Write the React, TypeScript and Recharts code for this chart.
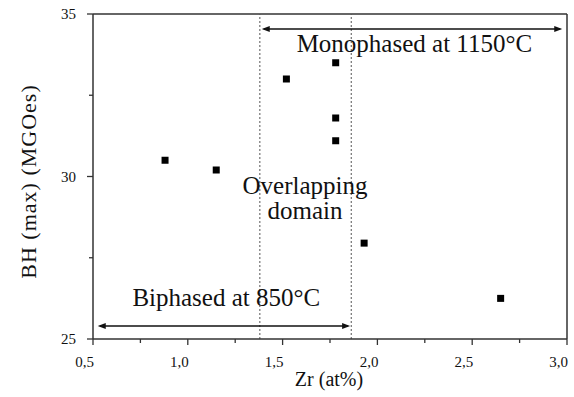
import React from 'react';
import {
  ScatterChart,
  Scatter,
  XAxis,
  YAxis,
  ReferenceLine,
  ReferenceDot,
  Label,
} from 'recharts';

// ---- data ----
const zrValues = [0.88, 1.15, 1.52, 1.78, 1.78, 1.78, 1.93, 2.65];
const bhValues = [30.5, 30.2, 33.0, 33.5, 31.8, 31.1, 27.95, 26.25];

const xMajorTicks = [0.5, 1.0, 1.5, 2.0, 2.5, 3.0];
const xMinorTicks = [0.75, 1.25, 1.75, 2.25, 2.75];
const yMajorTicks = [25, 30, 35];
const yMinorTicks = [27.5, 32.5];

const domainBounds = [1.38, 1.862]; // dotted vertical lines (Zr at%)

const monoArrow = { x1: 1.39, x2: 2.975, y: 34.54 };
const biArrow = { x1: 0.525, x2: 1.856, y: 25.4 };

const annMono = { x: 2.195, y: 33.83, lines: ['Monophased at 1150°C'] };
const annOverlap = { x: 1.618, y: 29.475, lines: ['Overlapping', 'domain'] };
const annBi = { x: 1.203, y: 26.02, lines: ['Biphased at 850°C'] };
const annotations = [annMono, annOverlap, annBi];

const points = zrValues.map((x, i) => ({ x, y: bhValues[i] }));

const FONT = "'Liberation Serif', 'Times New Roman', Times, serif";
const INK = '#111';

const fmt = (v: number) => v.toFixed(1).replace('.', ',');

const XTick = (props: any) => {
  const { x, y, payload } = props;
  const major = xMajorTicks.some((t) => Math.abs(t - payload.value) < 1e-6);
  return (
    <g>
      <line x1={x} x2={x} y1={y} y2={y + (major ? 6 : 4)} stroke="#333" strokeWidth={1.3} />
      {major && (
        <text x={x + 1} y={y + 28} textAnchor="end" fontFamily={FONT} fontSize={15} fill={INK}>
          {fmt(payload.value)}
        </text>
      )}
    </g>
  );
};

const YTick = (props: any) => {
  const { x, y, payload } = props;
  const major = yMajorTicks.some((t) => Math.abs(t - payload.value) < 1e-6);
  return (
    <g>
      <line x1={x - (major ? 6 : 4)} x2={x} y1={y} y2={y} stroke="#333" strokeWidth={1.3} />
      {major && (
        <text x={x - 17} y={y} dy="0.35em" textAnchor="end" fontFamily={FONT} fontSize={15} fill={INK}>
          {String(payload.value)}
        </text>
      )}
    </g>
  );
};

const Square = (props: any) => {
  const { cx, cy } = props;
  return <rect x={cx - 3.5} y={cy - 3.5} width={7} height={7} fill="#000" />;
};

const DoubleArrow = (props: any) => {
  const { x1, y1, x2, y2 } = props;
  const L = 8;
  const H = 3;
  return (
    <g>
      <line x1={x1 + 2} y1={y1} x2={x2 - 2} y2={y2} stroke="#111" strokeWidth={1.5} />
      <polygon points={`${x1},${y1} ${x1 + L},${y1 - H} ${x1 + L},${y1 + H}`} fill="#111" />
      <polygon points={`${x2},${y2} ${x2 - L},${y2 - H} ${x2 - L},${y2 + H}`} fill="#111" />
    </g>
  );
};

const makeTextShape = (lines: string[]) => (props: any) => {
  const { cx, cy } = props;
  return (
    <text x={cx} y={cy} textAnchor="middle" fontFamily={FONT} fontSize={25} fill={INK}>
      {lines.map((l, i) => (
        <tspan key={i} x={cx} dy={i === 0 ? 0 : 25}>
          {l}
        </tspan>
      ))}
    </text>
  );
};

const YLabel = (props: any) => {
  const vb = props.viewBox || { x: 0, y: 0, width: 0, height: 0 };
  const cx = vb.x + 28;
  const cy = vb.y + vb.height / 2 + 5;
  return (
    <text
      x={cx}
      y={cy}
      textAnchor="middle"
      dominantBaseline="central"
      transform={`rotate(-90, ${cx}, ${cy})`}
      fontFamily={FONT}
      fontSize={22}
      letterSpacing={1}
      fill={INK}
    >
      BH (max) (MGOes)
    </text>
  );
};

const XLabel = (props: any) => {
  const vb = props.viewBox || { x: 0, y: 0, width: 0, height: 0 };
  const cx = vb.x + vb.width / 2 - 1;
  const cy = vb.y + 47;
  return (
    <text x={cx} y={cy} textAnchor="middle" fontFamily={FONT} fontSize={20} fill={INK}>
      Zr (at%)
    </text>
  );
};

export default function App() {
  return (
    <div style={{ position: 'absolute', left: 0, top: 0, width: 574, height: 397, background: '#fff' }}>
      <ScatterChart width={574} height={397} margin={{ top: 14, right: 7, left: 0, bottom: 0 }}>
        <XAxis
          type="number"
          dataKey="x"
          domain={[0.5, 3.0]}
          ticks={[...xMajorTicks, ...xMinorTicks].sort((a, b) => a - b)}
          tick={<XTick />}
          tickLine={false}
          tickSize={0}
          tickMargin={0}
          axisLine={{ stroke: '#333', strokeWidth: 1.5 }}
          height={58}
          interval={0}
          allowDataOverflow
        >
          <Label content={<XLabel />} />
        </XAxis>
        <YAxis
          type="number"
          dataKey="y"
          domain={[25, 35]}
          ticks={[...yMajorTicks, ...yMinorTicks].sort((a, b) => a - b)}
          tick={<YTick />}
          tickLine={false}
          tickSize={0}
          tickMargin={0}
          axisLine={{ stroke: '#333', strokeWidth: 1.5 }}
          width={93}
          interval={0}
          allowDataOverflow
        >
          <Label content={<YLabel />} />
        </YAxis>

        <ReferenceLine y={35} stroke="#333" strokeWidth={1.5} />
        <ReferenceLine x={3.0} stroke="#333" strokeWidth={1.5} />

        {domainBounds.map((b, i) => (
          <ReferenceLine key={i} x={b} stroke="#555" strokeWidth={1} strokeDasharray="2 2" />
        ))}

        <ReferenceLine
          segment={[
            { x: monoArrow.x1, y: monoArrow.y },
            { x: monoArrow.x2, y: monoArrow.y },
          ]}
          shape={DoubleArrow}
        />
        <ReferenceLine
          segment={[
            { x: biArrow.x1, y: biArrow.y },
            { x: biArrow.x2, y: biArrow.y },
          ]}
          shape={DoubleArrow}
        />

        {annotations.map((a, i) => (
          <ReferenceDot key={i} x={a.x} y={a.y} r={1} shape={makeTextShape(a.lines)} />
        ))}

        <Scatter data={points} shape={<Square />} isAnimationActive={false} />
      </ScatterChart>
    </div>
  );
}
